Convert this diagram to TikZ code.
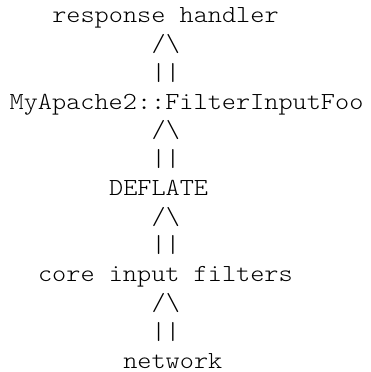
\documentclass[tikz,border=0pt]{standalone}
\usepackage{fontspec}
\newfontfamily\asciifont{lmmonolt10-regular.otf}[FakeStretch=1.1]
\begin{document}
\begin{tikzpicture}[x=1pt, y=1pt,
  txt/.style={anchor=base west, inner sep=0pt,
              font=\fontsize{24.5}{28.75}\selectfont\asciifont}]
  \useasboundingbox (0,0) rectangle (371,372);
  % one text row = 28.75pt, one column = 14.2pt
  \node[txt] (resp) at (9.5+3*14.2, 349)     {response handler};
  \node[txt] (filt) at (9.5, 349-3*28.75)    {MyApache2::FilterInputFoo};
  \node[txt] (defl) at (9.5+7*14.2, 349-6*28.75)  {DEFLATE};
  \node[txt] (core) at (9.5+2*14.2, 349-9*28.75)  {core input filters};
  \node[txt] (net)  at (9.5+8*14.2, 349-12*28.75) {network};
  % ascii arrows between the rows
  \foreach \r/\n in {1/a, 4/b, 7/c, 10/d} {
    \node[txt] (up\n)  at (9.5+10*14.2, 349-\r*28.75)     {/\textbackslash};
    \node[txt] (bar\n) at (9.5+10*14.2, 349-\r*28.75-28.75) {||};
  }
\end{tikzpicture}
\end{document}
